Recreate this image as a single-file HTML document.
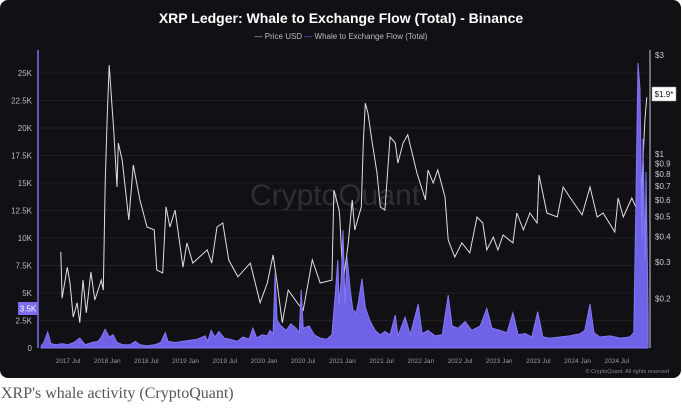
<!DOCTYPE html>
<html><head><meta charset="utf-8">
<style>
html,body{margin:0;padding:0;background:#fff;width:682px;height:414px;overflow:hidden}
#panel{position:absolute;left:0;top:0;width:681px;height:378px;background:#111115;border-radius:8px}
svg{position:absolute;left:0;top:0}
#caption{position:absolute;left:1px;top:385px;font-family:"Liberation Serif",serif;font-size:16px;color:#555}
</style></head><body>
<div id="panel"></div>
<svg id="chart" width="682" height="380" font-family="Liberation Sans, sans-serif"></svg>
<div id="caption">XRP's whale activity (CryptoQuant)</div>
<script>
const flowTicks=[0,2500,5000,7500,10000,12500,15000,17500,20000,22500,25000];
const flowTickLabels=["0","2.5K","5K","7.5K","10K","12.5K","15K","17.5K","20K","22.5K","25K"];
const priceTicks=[3,1,0.9,0.8,0.7,0.6,0.5,0.4,0.3,0.2];
const priceTickLabels=["$3","$1","$0.9","$0.8","$0.7","$0.6","$0.5","$0.4","$0.3","$0.2"];
const xTickMonths=[6,12,18,24,30,36,42,48,54,60,66,72,78,84,90];
const xTickLabels=["2017 Jul","2018 Jan","2018 Jul","2019 Jan","2019 Jul","2020 Jan","2020 Jul","2021 Jan","2021 Jul","2022 Jan","2022 Jul","2023 Jan","2023 Jul","2024 Jan","2024 Jul"];
// months since 2017-01
const priceMonths=[4.9,5.1,5.9,6.3,6.8,7.4,7.8,8.3,8.8,9.5,10.1,11.1,11.4,11.7,12.0,12.3,12.7,13.0,13.5,13.7,14.3,15.3,16.0,17.0,18.1,19.2,19.6,20.5,21.0,21.6,22.4,23.6,24.2,25.1,27.3,28.0,28.8,29.7,30.6,32.0,33.9,35.4,36.5,37.4,38.0,38.8,39.7,41.1,42.0,43.4,44.6,46.4,46.7,47.5,47.6,48.1,48.9,49.5,49.9,50.9,51.2,51.5,51.9,52.5,53.3,53.8,54.5,55.3,56.1,56.5,57.3,58.0,59.4,60.7,61.1,61.9,62.6,63.7,64.2,65.2,66.3,67.5,68.6,69.5,70.1,71.1,71.8,72.6,74.1,74.7,75.7,76.7,77.8,78.1,79.3,80.9,81.8,82.8,84.7,85.9,87.0,87.9,89.7,90.2,91.0,92.3,93.6,94.3,94.6];
const priceValues=[0.337,0.201,0.284,0.238,0.163,0.191,0.153,0.246,0.171,0.269,0.197,0.246,0.220,0.724,1.51,2.69,1.76,1.31,0.693,1.13,0.935,0.480,0.885,0.600,0.444,0.430,0.275,0.266,0.555,0.444,0.536,0.284,0.372,0.297,0.344,0.297,0.444,0.464,0.308,0.255,0.297,0.191,0.238,0.325,0.238,0.153,0.220,0.191,0.176,0.308,0.238,0.246,0.670,0.536,0.496,0.238,0.372,0.600,0.430,0.555,1.13,1.76,1.58,1.17,0.810,0.555,0.536,1.21,1.13,0.905,1.13,1.24,0.810,0.600,0.837,0.724,0.837,0.620,0.384,0.318,0.372,0.333,0.496,0.464,0.344,0.397,0.344,0.406,0.372,0.519,0.430,0.519,0.464,0.792,0.519,0.496,0.693,0.620,0.508,0.693,0.496,0.519,0.420,0.613,0.496,0.613,0.496,1.46,1.88];
const flowMonths=[1.9,2.3,2.9,3.4,4.2,5.1,6.0,6.9,7.8,8.6,9.7,10.6,11.1,11.7,12.3,12.9,13.5,14.4,15.5,16.3,17.0,18.1,19.3,20.2,20.9,21.3,22.4,23.5,24.7,25.8,27.0,27.4,27.9,28.5,29.1,29.9,30.8,31.9,32.8,33.7,34.3,34.9,35.7,36.5,36.9,37.4,37.7,38.0,38.6,39.4,40.1,40.9,41.4,41.7,42.0,42.9,43.7,44.6,45.6,46.4,46.9,47.3,47.5,47.8,48.1,48.4,48.7,49.2,49.6,50.1,50.4,51.0,51.5,52.2,53.0,53.8,54.5,55.3,56.1,56.5,57.6,58.4,59.6,60.2,61.1,62.2,63.3,64.2,64.8,65.7,66.8,67.8,69.1,70.1,70.9,72.1,73.2,74.1,74.9,76.0,77.0,77.9,78.7,79.8,81.3,82.8,84.4,85.1,85.9,86.5,87.4,89.0,90.5,92.0,92.6,92.9,93.25,93.56,93.87,94.02,94.33,94.48,94.79];
const flowValues=[200,500,1450,400,300,400,300,500,900,300,500,600,1000,1700,1000,1200,500,300,300,600,300,200,300,500,1400,600,500,600,700,800,1100,600,1600,1000,1500,900,800,600,1000,800,1800,900,1200,1100,1600,1300,6800,2500,2000,1600,2200,1800,1400,5300,1800,2000,1200,900,800,1200,4800,8000,4000,6000,10700,4000,8300,5300,3500,3200,4000,6300,3700,2500,1600,1200,1500,1200,3000,1100,2800,1200,4000,1300,1600,1100,1200,4800,2000,1800,2400,1600,2000,3600,1800,1600,1400,3200,1200,1300,1000,3300,1000,900,1000,1100,1300,1600,4000,1400,1000,1100,900,1000,1400,12000,25900,23500,10000,19000,8000,16000,3000];

const svg=document.getElementById('chart');
const NS='http://www.w3.org/2000/svg';
function mk(tag,attrs,text){const e=document.createElementNS(NS,tag);for(const k in attrs)e.setAttribute(k,attrs[k]);if(text!==undefined)e.textContent=text;svg.appendChild(e);return e;}
const xS=m=>68+(m-6)*6.533;
const yF=v=>348-v*0.011;
const yP=p=>154-Math.log10(p)*207;

let t=mk('text',{x:341,y:23,'text-anchor':'middle','font-size':14,'font-weight':'bold',fill:'#fff'},'XRP Ledger: Whale to Exchange Flow (Total) - Binance');

let lg=mk('text',{x:341,y:39,'text-anchor':'middle','font-size':8,fill:'#bbb'},'— Price USD    ');

const ts=document.createElementNS(NS,'tspan');ts.setAttribute('fill','#7b6cf0');ts.textContent='—';lg.appendChild(ts);
const ts2=document.createElementNS(NS,'tspan');ts2.textContent=' Whale to Exchange Flow (Total)';lg.appendChild(ts2);

let wm=mk('text',{x:335,y:205,'text-anchor':'middle','font-size':30,fill:'#2e2e33'},'CryptoQuant');


flowTicks.forEach((v,i)=>{
  let g=mk('line',{x1:40,x2:648,y1:yF(v),y2:yF(v),stroke:'#1f1f24','stroke-width':1});
  
  let l=mk('text',{x:32,y:yF(v)+3,'text-anchor':'end','font-size':8,fill:'#bbb'},flowTickLabels[i]);
  
});
priceTicks.forEach((p,i)=>{
  let l=mk('text',{x:655,y:yP(p)+3,'font-size':8,fill:'#ccc'},priceTickLabels[i]);
  
});
xTickMonths.forEach((m,i)=>{
  let l=mk('text',{x:xS(m),y:363,'text-anchor':'middle','font-size':6.5,fill:'#999'},xTickLabels[i]);
  
});

let pd=priceMonths.map((m,i)=>(i?'L':'M')+xS(m).toFixed(1)+','+yP(priceValues[i]).toFixed(1)).join('');
let pl=mk('path',{d:pd,fill:'none',stroke:'#e0e0e0','stroke-width':1});


let fd='M'+xS(flowMonths[0]).toFixed(1)+','+yF(0)+flowMonths.map((m,i)=>'L'+xS(m).toFixed(1)+','+yF(flowValues[i]).toFixed(1)).join('')+'L'+xS(flowMonths[flowMonths.length-1]).toFixed(1)+','+yF(0)+'Z';
let fa=mk('path',{d:fd,fill:'#6f62e6',stroke:'#8478f5','stroke-width':1});


let la=mk('line',{x1:38,x2:38,y1:50,y2:348,stroke:'#7b6cf0','stroke-width':1.5});

let ra=mk('line',{x1:650,x2:650,y1:50,y2:348,stroke:'#ccc','stroke-width':1});


let hb=mk('rect',{x:18,y:302,width:20,height:13,fill:'#7b6cf0'});

let ht=mk('text',{x:28,y:311.5,'text-anchor':'middle','font-size':8,fill:'#fff'},'3.5K');

let pb=mk('rect',{x:652,y:87,width:24,height:14,fill:'#fff',stroke:'#999','stroke-width':0.5});

let pt=mk('text',{x:664,y:97,'text-anchor':'middle','font-size':8,fill:'#111'},'$1.9*');


let cp=mk('text',{x:669,y:373,'text-anchor':'end','font-size':5.5,fill:'#888'},'© CryptoQuant. All rights reserved');

</script>
</body></html>
